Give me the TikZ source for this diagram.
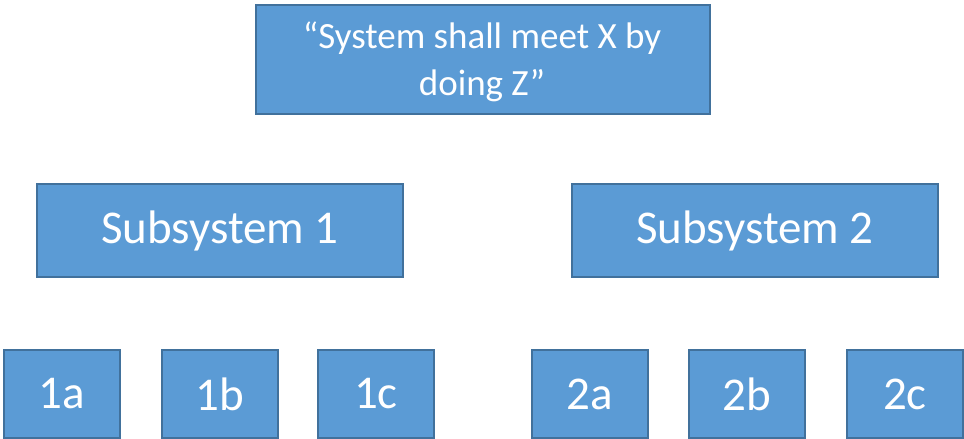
\documentclass[tikz,border=0pt]{standalone}
\usepackage{fontspec}
\setmainfont{Carlito}
\definecolor{boxfill}{HTML}{5B9BD5}
\definecolor{boxline}{HTML}{41719C}
\tikzset{
  blk/.style={draw=boxline, fill=boxfill, line width=2pt, inner sep=0pt, anchor=north west, text=white, font=\fontsize{47}{52}\selectfont},
  toptxt/.style={text=white, inner sep=0pt, anchor=base, font=\fontsize{37}{45}\selectfont}
}
\begin{document}
\begin{tikzpicture}[x=1pt,y=-1pt]
\useasboundingbox (0,0) rectangle (964,439);
\node[blk, minimum width=454pt, minimum height=109pt] (top) at (255,4) {};
\begin{scope}
  \clip (255,4) rectangle (709,101.5);
  \node[toptxt] (l1) at (482,48) {“System shall meet X by};
  \node[toptxt] (l2) at (482,95) {doing Z”};
\end{scope}
\node[blk, minimum width=366pt, minimum height=93pt] (s1) at (36,183) {Subsystem 1};
\node[blk, minimum width=366pt, minimum height=93pt] (s2) at (571,183) {Subsystem 2};
\node[blk, minimum width=116pt, minimum height=88pt] (a1) at (3,349) {1a};
\node[blk, minimum width=116pt, minimum height=88pt] (b1) at (161,349) {1b};
\node[blk, minimum width=116pt, minimum height=88pt] (c1) at (317,349) {1c};
\node[blk, minimum width=116pt, minimum height=88pt] (a2) at (531,349) {2a};
\node[blk, minimum width=116pt, minimum height=88pt] (b2) at (688,349) {2b};
\node[blk, minimum width=116pt, minimum height=88pt] (c2) at (846,349) {2c};
\end{tikzpicture}
\end{document}
